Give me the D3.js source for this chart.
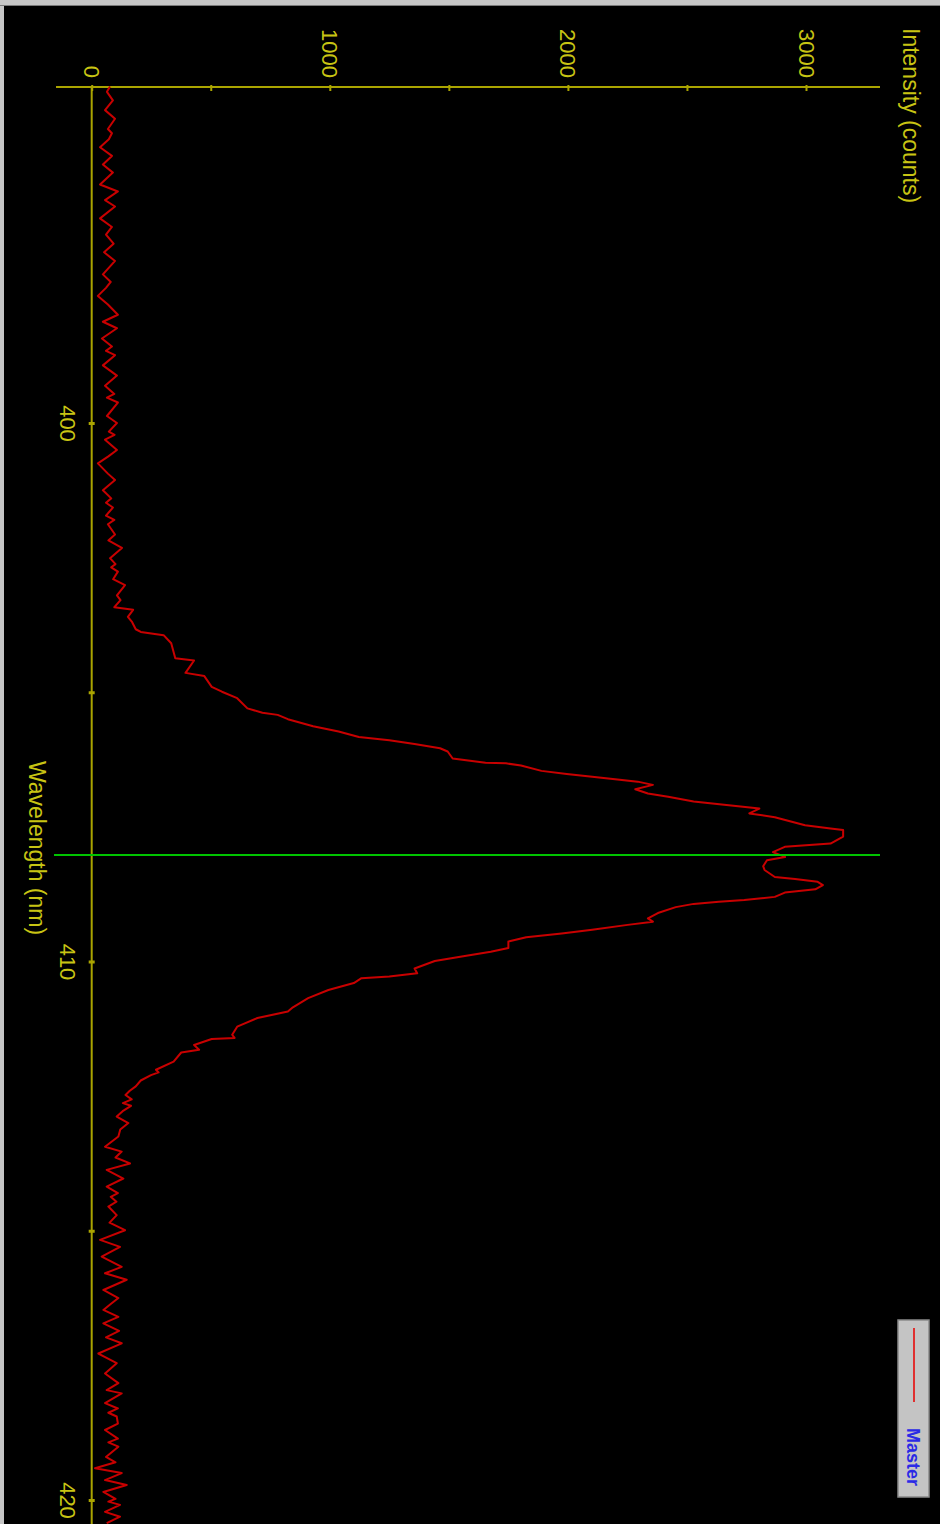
<!DOCTYPE html>
<html>
<head>
<meta charset="utf-8">
<style>
  html, body { margin: 0; padding: 0; background: #000; }
  svg { display: block; }
  text { font-family: "Liberation Sans", Arial, sans-serif; }
</style>
</head>
<body>
<svg class="spectrum" width="940" height="1524"></svg>

<script src="https://d3js.org/d3.v7.min.js"></script>
<script>
  // spectrum (wavelength in nm, intensity in counts)
  const wavelength = [
    393.75, 393.85, 394.01, 394.19, 394.35, 394.54, 394.62, 394.73, 394.88, 395.04,
    395.20, 395.35, 395.57, 395.70, 395.86, 395.98, 396.20, 396.36, 396.50, 396.67,
    396.83, 396.99, 397.24, 397.38, 397.49, 397.64, 397.80, 397.99, 398.12, 398.24,
    398.43, 398.58, 398.66, 398.74, 398.93, 399.12, 399.31, 399.46, 399.53, 399.62,
    399.87, 400.00, 400.16, 400.22, 400.31, 400.50, 400.62, 400.75, 400.94, 401.06,
    401.25, 401.40, 401.48, 401.57, 401.72, 401.80, 401.88, 402.07, 402.18, 402.32,
    402.51, 402.62, 402.68, 402.76, 402.90, 403.01, 403.20, 403.29, 403.42, 403.47,
    403.60, 403.70, 403.83, 403.88, 403.94, 404.09, 404.37, 404.41, 404.64, 404.70,
    404.90, 404.99, 405.11, 405.30, 405.38, 405.42, 405.50, 405.63, 405.73, 405.83,
    405.89, 405.96, 406.04, 406.10, 406.23, 406.31, 406.32, 406.36, 406.46, 406.52,
    406.57, 406.62, 406.66, 406.72, 406.80, 406.88, 406.94, 407.03, 407.09, 407.16,
    407.25, 407.32, 407.47, 407.53, 407.56, 407.68, 407.81, 407.87, 407.97, 408.06,
    408.12, 408.23, 408.30, 408.43, 408.47, 408.52, 408.58, 408.66, 408.72, 408.80,
    408.86, 408.89, 408.93, 408.99, 409.10, 409.20, 409.26, 409.32, 409.41, 409.48,
    409.55, 409.63, 409.75, 409.82, 409.91, 409.99, 410.13, 410.22, 410.28, 410.31,
    410.40, 410.53, 410.68, 410.85, 410.93, 411.05, 411.21, 411.36, 411.42, 411.44,
    411.55, 411.64, 411.69, 411.86, 412.01, 412.06, 412.11, 412.21, 412.32, 412.40,
    412.48, 412.56, 412.63, 412.68, 412.78, 412.88, 413.00, 413.12, 413.25, 413.44,
    413.53, 413.64, 413.75, 413.87, 414.03, 414.18, 414.30, 414.37, 414.46, 414.55,
    414.71, 414.85, 414.99, 415.17, 415.30, 415.48, 415.67, 415.79, 415.91, 416.10,
    416.25, 416.36, 416.47, 416.60, 416.72, 416.86, 416.98, 417.09, 417.28, 417.46,
    417.65, 417.83, 417.96, 418.02, 418.20, 418.30, 418.38, 418.45, 418.58, 418.70,
    418.86, 418.93, 419.01, 419.20, 419.30, 419.41, 419.50, 419.63, 419.72, 419.85,
    419.98, 420.03, 420.09, 420.22, 420.31, 420.43
  ];
  const counts = [
    77, 64, 89, 56, 98, 68, 85, 72, 35, 85,
    47, 89, 35, 110, 56, 98, 35, 85, 60, 92,
    52, 98, 47, 80, 60, 26, 68, 110, 47, 106,
    43, 85, 60, 98, 47, 106, 56, 95, 64, 110,
    64, 106, 72, 96, 56, 106, 70, 26, 68, 98,
    47, 82, 60, 89, 60, 95, 68, 98, 70, 127,
    77, 100, 82, 110, 90, 140, 106, 121, 95, 174,
    152, 170, 185, 206, 302, 334, 351, 430, 394, 473,
    504, 547, 611, 654, 717, 781, 824, 930, 1037, 1122,
    1250, 1356, 1463, 1495, 1516, 1654, 1740, 1803, 1889, 1995,
    2102, 2208, 2293, 2357, 2283, 2336, 2421, 2528, 2656, 2804,
    2762, 2869, 2996, 3103, 3156, 3156, 3103, 2911, 2861, 2912,
    2836, 2820, 2826, 2869, 2954, 3049, 3071, 3039, 2911, 2869,
    2741, 2634, 2528, 2453, 2378, 2336, 2357, 2251, 2102, 1974,
    1825, 1750, 1750, 1676, 1548, 1441, 1356, 1367, 1250, 1133,
    1101, 994, 909, 845, 824, 696, 611, 590, 600, 504,
    430, 451, 376, 344, 270, 281, 249, 206, 185, 160,
    142, 168, 131, 165, 130, 105, 154, 120, 112, 56,
    126, 100, 161, 63, 133, 63, 110, 80, 104, 70,
    105, 75, 140, 35, 119, 42, 126, 56, 147, 49,
    112, 80, 49, 112, 49, 115, 60, 126, 28, 105,
    56, 112, 63, 126, 56, 110, 70, 105, 110, 56,
    110, 70, 112, 60, 100, 14, 126, 56, 147, 49,
    100, 70, 119, 56, 119, 63
  ];

  const intensityTicks = [0, 500, 1000, 1500, 2000, 2500, 3000];
  const intensityLabels = [0, 1000, 2000, 3000];
  const wavelengthTicks = [400, 405, 410, 415, 420];
  const wavelengthLabels = [400, 410, 420];
  const cursorWavelength = 408.02;
  const seriesName = "Master";

  const width = 940;
  const height = 1524;
  const axisColor = "#aaa400";
  const textColor = "#c8c414";

  const svg = d3.select("svg.spectrum");

  // window frame: grey strip on top and left, black plot area
  svg.append("rect").attr("width", width).attr("height", height).attr("fill", "#c6c6c6");
  svg.append("rect").attr("x", 0).attr("y", 5).attr("width", width).attr("height", 1).attr("fill", "#7a7a7a");
  svg.append("rect").attr("x", 4).attr("y", 6).attr("width", width - 4).attr("height", height - 6).attr("fill", "#000");

  // the chart is turned a quarter clockwise: intensity runs to the right, wavelength runs down
  const x = d3.scaleLinear().domain([0, 3000]).range([91.7, 806]);
  const y = d3.scaleLinear().domain([400, 420]).range([423, 1500]);
  const axisY = 87;

  // intensity axis
  svg.append("line")
    .attr("x1", 56).attr("x2", 880)
    .attr("y1", axisY).attr("y2", axisY)
    .attr("stroke", axisColor).attr("stroke-width", 2);

  const xAxis = svg.append("g")
    .attr("transform", `translate(0,${axisY})`)
    .call(d3.axisTop(x)
      .tickValues(intensityTicks)
      .tickSizeInner(-4)
      .tickSizeOuter(0)
      .tickFormat(d => intensityLabels.includes(d) ? d : ""));
  xAxis.select(".domain").remove();
  xAxis.selectAll(".tick line")
    .attr("y1", -2).attr("y2", 4)
    .attr("stroke", axisColor).attr("stroke-width", 2);
  xAxis.selectAll(".tick text")
    .attr("transform", "rotate(90)")
    .attr("x", -9).attr("y", 8).attr("dy", 0)
    .attr("text-anchor", "end")
    .attr("fill", textColor)
    .style("font-size", "22px");

  // wavelength axis
  svg.append("line")
    .attr("x1", x(0)).attr("x2", x(0))
    .attr("y1", axisY).attr("y2", height)
    .attr("stroke", axisColor).attr("stroke-width", 2);

  const yAxis = svg.append("g")
    .attr("transform", `translate(${x(0)},0)`)
    .call(d3.axisLeft(y)
      .tickValues(wavelengthTicks)
      .tickSizeOuter(0)
      .tickFormat(d => wavelengthLabels.includes(d) ? d : ""));
  yAxis.select(".domain").remove();
  yAxis.selectAll(".tick line")
    .attr("x1", -3).attr("x2", 3)
    .attr("stroke", axisColor).attr("stroke-width", 3);
  yAxis.selectAll(".tick text")
    .attr("transform", "rotate(90)")
    .attr("x", 0).attr("y", 32).attr("dy", 0)
    .attr("text-anchor", "middle")
    .attr("fill", textColor)
    .style("font-size", "22px");

  // axis titles
  svg.append("text")
    .attr("transform", "translate(29,848) rotate(90)")
    .attr("text-anchor", "middle")
    .attr("fill", textColor)
    .style("font-size", "23px")
    .text("Wavelength (nm)");

  svg.append("text")
    .attr("transform", "translate(903,28) rotate(90)")
    .attr("text-anchor", "start")
    .attr("fill", textColor)
    .style("font-size", "23px")
    .text("Intensity (counts)");

  // spectrum
  const spectrum = wavelength.map((w, i) => ({ w: w, c: counts[i] }));
  const line = d3.line()
    .x(d => x(d.c))
    .y(d => y(d.w));

  svg.append("path")
    .datum(spectrum)
    .attr("fill", "none")
    .attr("stroke", "#c80000")
    .attr("stroke-width", 2)
    .attr("stroke-linejoin", "round")
    .attr("d", line);

  // cursor
  svg.append("line")
    .attr("x1", 54).attr("x2", 880)
    .attr("y1", y(cursorWavelength)).attr("y2", y(cursorWavelength))
    .attr("stroke", "#00c400").attr("stroke-width", 2);

  // legend
  const legend = svg.append("g").attr("transform", "translate(898,1320)");
  legend.append("rect")
    .attr("width", 31).attr("height", 177)
    .attr("fill", "#c4c4c4")
    .attr("stroke", "#8a8a8a").attr("stroke-width", 1.5);
  legend.append("line")
    .attr("x1", 16).attr("x2", 16)
    .attr("y1", 8).attr("y2", 82)
    .attr("stroke", "#e03030").attr("stroke-width", 2);
  legend.append("text")
    .attr("transform", "translate(9,108) rotate(90)")
    .attr("fill", "#2a2ae6")
    .style("font-size", "18px")
    .style("font-weight", "bold")
    .text(seriesName);
</script>
</body>
</html>
